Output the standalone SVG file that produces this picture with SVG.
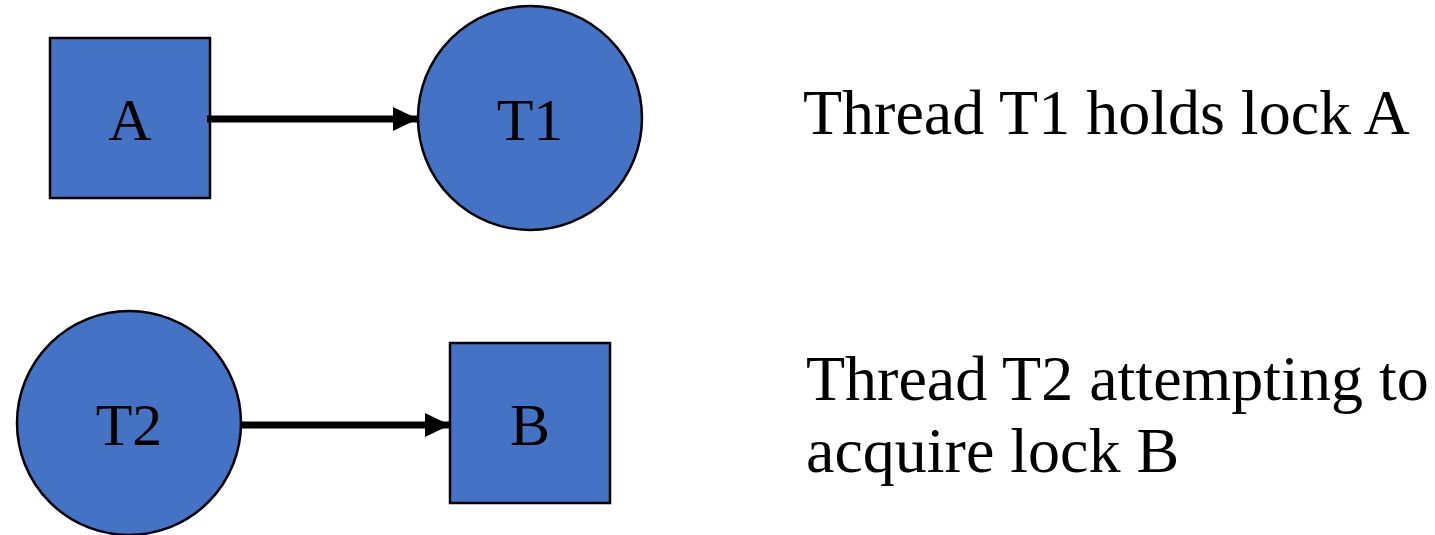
<svg xmlns="http://www.w3.org/2000/svg" width="1435" height="535" viewBox="0 0 1435 535">
<style>
.node{fill:#4472C4;stroke:#000;stroke-width:2.5}
.lbl{font-size:60px;fill:#000;text-anchor:middle}
.txt{font-size:64px;fill:#000}
.edge{stroke:#000;stroke-width:7;fill:none}
</style>
<defs>
<marker id="arr" markerUnits="userSpaceOnUse" markerWidth="26" markerHeight="32" refX="24" refY="16" orient="auto" viewBox="0 0 26 32">
<path d="M0,4 L25,16 L0,28 Z" fill="#000"/>
</marker>
</defs>
<rect width="1435" height="535" fill="#fff"/>
<g id="A"><rect class="node" x="50" y="38" width="160" height="160"/><text class="lbl" font-family="Liberation Serif, serif" x="130" y="140">A</text></g>
<g id="T1"><circle class="node" cx="530" cy="118" r="112"/><text class="lbl" font-family="Liberation Serif, serif" x="530" y="140">T1</text></g>
<g id="T2"><circle class="node" cx="129" cy="423" r="112"/><text class="lbl" font-family="Liberation Serif, serif" x="129" y="445">T2</text></g>
<g id="B"><rect class="node" x="450" y="343" width="160" height="160"/><text class="lbl" font-family="Liberation Serif, serif" x="530" y="445">B</text></g>
<g id="connectors">
<line class="edge" x1="207" y1="119" x2="417" y2="119" marker-end="url(#arr)"/>
<line class="edge" x1="240" y1="425" x2="449" y2="425" marker-end="url(#arr)"/>
</g>
<g id="texts" font-family="Liberation Serif, serif">
<text class="txt" x="803" y="134">Thread T1 holds lock A</text>
<text class="txt" x="806" y="400">Thread T2 attempting to</text>
<text class="txt" x="806" y="472">acquire lock B</text>
</g>
</svg>
